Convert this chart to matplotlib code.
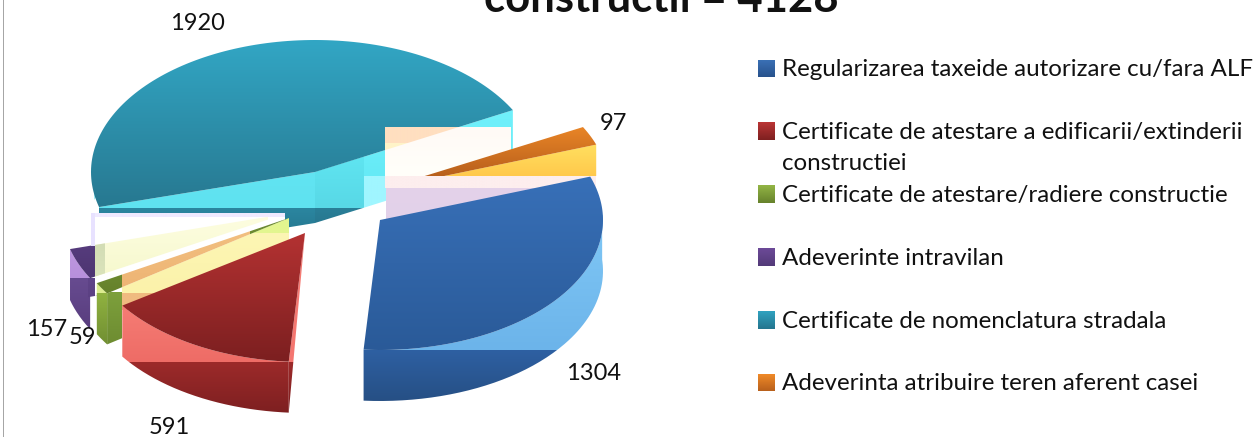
import numpy as np
import matplotlib
matplotlib.use("Agg")
import matplotlib.pyplot as plt
from matplotlib.colors import to_rgb
from matplotlib.path import Path
from matplotlib.patches import Rectangle

plt.rcParams['font.family'] = ['Lato', 'DejaVu Sans']

categories = [
    "Regularizarea taxeide autorizare cu/fara ALF",
    "Certificate de atestare a edificarii/extinderii\nconstructiei",
    "Certificate de atestare/radiere constructie",
    "Adeverinte intravilan",
    "Certificate de nomenclatura stradala",
    "Adeverinta atribuire teren aferent casei",
]
values = [1304, 591, 59, 157, 1920, 97]
title = "constructii = 4128"

# layout of the exploded pie, in pixels
start_angle = 19.5
apex = [(380, 220), (305, 233), (289, 218), (285, 214), (315, 172), (386, 188)]
rx = [223, 221, 220, 223, 224, 223]
ry = [130, 129, 134, 132, 132, 130]
depth = 51
label_pos = [(594, 373), (169, 427), (82, 337), (47, 329), (197, 24), (613, 123)]
legend_top = [(60, 77), (122, 140), (185, 203), (248, 266), (311, 329), (374, 391)]
legend_cols = [("#3a70b5", "#28528c"), ("#bb3535", "#7e2020"), ("#93b545", "#66822c"),
               ("#6c4a98", "#533a78"), ("#30a2c0", "#24758e"), ("#f08a28", "#b8601c")]

edges = start_angle - np.concatenate([[0], np.cumsum(values)]) / sum(values) * 360

fig = plt.figure(figsize=(12.6, 4.37), dpi=100)
ax = fig.add_axes([0, 0, 1, 1])


def rim(i, ang):
    t = np.radians(ang)
    return np.column_stack([apex[i][0] + rx[i] * np.cos(t), apex[i][1] - ry[i] * np.sin(t)])


def sector(i):
    arc = rim(i, np.linspace(edges[i], edges[i + 1], 120))
    return np.vstack([[apex[i]], arc])


def wall(i, a0, a1):
    arc = rim(i, np.linspace(a0, a1, 120))
    return np.vstack([arc, (arc + [0, depth])[::-1]])


def cut(i, ang):
    p = rim(i, [ang])[0]
    a = np.array(apex[i], dtype=float)
    return np.array([a, p, p + [0, depth], a + [0, depth]])


zo = [1]


def shade(pts, box, c0, c1=None, alpha=1.0):
    # vertical gradient in box, clipped to the polygon pts
    x0, x1, y0, y1 = box
    c1 = c1 or c0
    f = np.linspace(0, 1, 64)[:, None, None]
    rgb = np.array(to_rgb(c0))[None, None, :] * (1 - f) + np.array(to_rgb(c1))[None, None, :] * f
    img = np.dstack([rgb, np.full((64, 1), alpha)])
    im = ax.imshow(img, extent=(x0, x1, y1, y0), aspect="auto", interpolation="bilinear", zorder=zo[0])
    im.set_clip_path(Path(np.vstack([pts, pts[:1]])), ax.transData)
    zo[0] += 1


def rect(x0, x1, y0, y1):
    return np.array([[x0, y0], [x1, y0], [x1, y1], [x0, y1]], dtype=float)


BLUE, RED, GREEN, PURPLE, TEAL, ORANGE = range(6)

# teal slice
shade(wall(TEAL, 170, edges[TEAL]), (85, 110, 160, 208), "#62e4f2")
shade(wall(TEAL, 170, edges[TEAL]), (85, 110, 208, 213), "#2b8099")
shade(cut(TEAL, edges[TEAL]), (85, 316, 165, 208), "#62e4f2", "#5fe2f0")
shade(cut(TEAL, edges[TEAL]), (85, 316, 208, 240), "#2b86a0", "#24748c")
shade(cut(TEAL, edges[TEAL + 1]), (315, 520, 100, 176), "#72f2fc", "#66eaf6")
shade(cut(TEAL, edges[TEAL + 1]), (315, 364, 150, 208), "#60e6f2", "#58d8e6")
shade(cut(TEAL, edges[TEAL + 1]), (364, 386, 176, 208), "#a0f6ff")
shade(cut(TEAL, edges[TEAL + 1]), (315, 364, 208, 240), "#2a7f98", "#246f86")
shade(sector(TEAL), (85, 520, 40, 212), "#32a6c4", "#27778f")

# glass in front of the teal slice, then the orange slice
shade(rect(385, 511, 127, 176), (385, 511, 127, 176), "#fffaf6", "#fffffa")
shade(sector(TEAL), (385, 511, 127, 143), "#ffdfc0")
shade(sector(TEAL), (385, 511, 143, 176), "#fff4c8")
shade(cut(ORANGE, edges[ORANGE + 1]), (386, 600, 143, 176), "#ffe060", "#ffc94c")
shade(sector(ORANGE), (386, 600, 120, 176), "#f08a28", "#b8601c")
shade(rect(385, 596, 176, 188), (385, 596, 176, 188), "#fdeeee")
shade(cut(ORANGE, edges[ORANGE + 1]), (385, 600, 188, 245), "#e4d2ea", "#e0d0e8")

# blue slice
shade(wall(BLUE, 5, edges[BLUE + 1]), (360, 610, 215, 350), "#80c8f6", "#6cb4ea")
shade(wall(BLUE, 5, edges[BLUE + 1]), (360, 610, 350, 402), "#2e60a2", "#264f84")
shade(sector(BLUE), (360, 610, 175, 352), "#3870b8", "#2a5a98")

# purple slice, white glass over most of it
shade(wall(PURPLE, edges[PURPLE], edges[PURPLE + 1]), (66, 100, 240, 278), "#c09ae0", "#b890dc")
shade(wall(PURPLE, edges[PURPLE], edges[PURPLE + 1]), (66, 100, 278, 335), "#674b90", "#573c7c")
shade(cut(PURPLE, edges[PURPLE + 1]), (88, 100, 278, 335), "#5f4488", "#543a78")
shade(sector(PURPLE), (66, 290, 212, 282), "#5f4388", "#4c3470")
shade(rect(91, 285, 213, 217), (91, 285, 213, 217), "#efeaff")
shade(rect(91, 95, 213, 246), (91, 95, 213, 246), "#e8e2ff")
shade(rect(95, 285, 217, 262), (95, 285, 217, 262), "#ffffff")
shade(cut(PURPLE, edges[PURPLE + 1]), (95, 285, 217, 300), "#ffffff")
shade(sector(PURPLE), (95, 268, 216, 282), "#fdfde0", "#f6f8cc")
shade(sector(PURPLE), (95, 105, 240, 282), "#d2dcb4", "#dce4bc")

# green slice
shade(cut(GREEN, edges[GREEN]), (122, 292, 218, 233), "#e3f68f")
shade(cut(GREEN, edges[GREEN]), (122, 292, 233, 293), "#fdf6b4", "#fbf2aa")
shade(cut(GREEN, edges[GREEN]), (122, 292, 293, 310), "#f0bb80")
shade(cut(GREEN, edges[GREEN]), (100, 122, 292, 350), "#7da03c", "#6c8a30")
shade(wall(GREEN, edges[GREEN], edges[GREEN + 1]), (92, 110, 280, 293), "#dcec90")
shade(wall(GREEN, edges[GREEN], edges[GREEN + 1]), (92, 110, 293, 346), "#90b240", "#708e32")
shade(sector(GREEN), (92, 122, 270, 296), "#6c8a30", "#647f2a")
shade(sector(GREEN), (122, 250, 225, 290), "#f2c080", "#eeb474")
shade(sector(GREEN), (250, 292, 215, 240), "#6c8a30")

# red slice
shade(wall(RED, edges[RED], edges[RED + 1]), (118, 300, 300, 362), "#f67e76", "#ee6c66")
shade(wall(RED, edges[RED], edges[RED + 1]), (118, 300, 362, 416), "#9c2a2a", "#7c1f20")
side = np.array([apex[RED], rim(RED, [edges[RED]])[0], rim(RED, [edges[RED]])[0] + [0, depth]])
shade(side, (280, 310, 230, 362), "#f67e76", "#f47670")
shade(side, (280, 310, 362, 416), "#9c2a2a", "#7c1f20")
shade(sector(RED), (118, 310, 232, 362), "#b43232", "#7c1f20")

# frame on the left
ax.add_patch(Rectangle((3, 0), 1.4, 437, color="#a6a6a6", lw=0, zorder=zo[0]))

for val, (x, y) in zip(values, label_pos):
    ax.text(x, y, str(val), ha="center", va="center", fontsize=17, color="#111111", zorder=zo[0] + 1)

# legend
for cat, (y0, y1), (c0, c1) in zip(categories, legend_top, legend_cols):
    shade(rect(758, 775, y0, y1), (758, 775, y0, y1), c0, c1)
    first = cat.split("\n")
    ax.text(782, (y0 + y1) / 2 + 1.5, first[0], ha="left", va="center", fontsize=17.35, color="#111111", zorder=zo[0])
    if len(first) > 1:
        ax.text(782, (y0 + y1) / 2 + 33, first[1], ha="left", va="center", fontsize=17.35, color="#111111", zorder=zo[0])

ax.text(661, 12, title, ha="center", va="baseline", fontsize=31.4, fontweight="bold", color="#111111", zorder=zo[0])

ax.set_xlim(0, 1260)
ax.set_ylim(437, 0)
ax.axis("off")
fig.savefig("out.png", dpi=100)
